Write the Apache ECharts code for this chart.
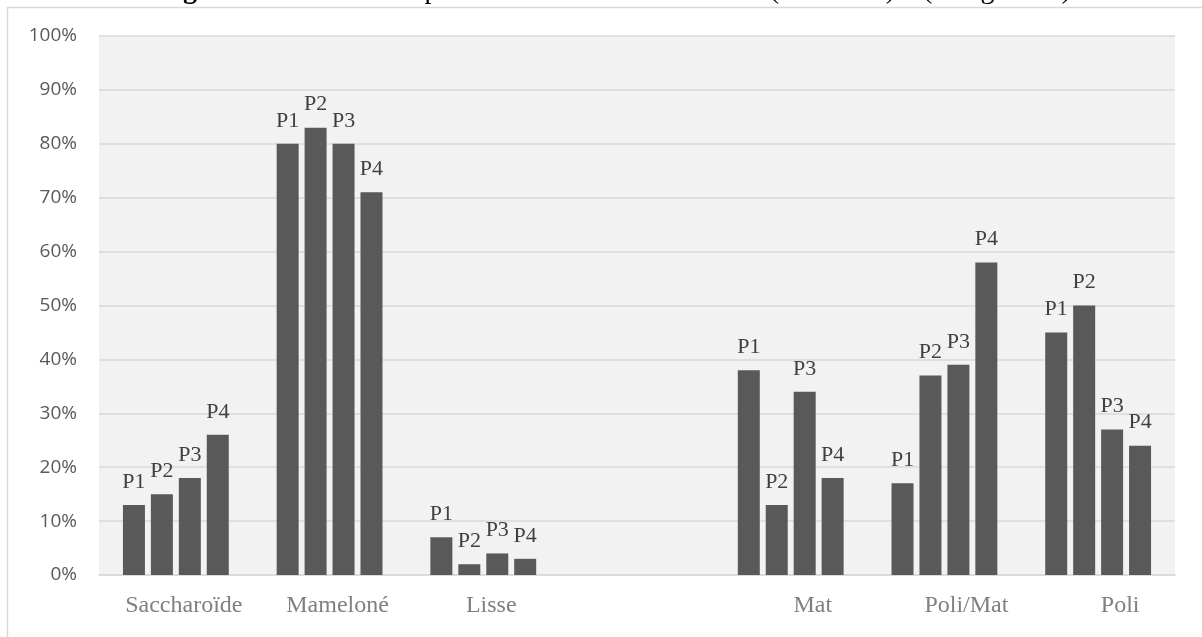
<!DOCTYPE html>
<html>
<head>
<meta charset="utf-8">
<script src="https://cdn.jsdelivr.net/npm/echarts@6/dist/echarts.min.js"></script>
<style>html,body{margin:0;padding:0;background:#fff;}#c{width:1202px;height:637px;}</style>
</head>
<body>
<div id="c"></div>
<script>
const categories = ['Saccharoïde', 'Mameloné', 'Lisse', '', 'Mat', 'Poli/Mat', 'Poli'];
const seriesNames = ['P1', 'P2', 'P3', 'P4'];
const p1 = [13, 80, 7, null, 38, 17, 45];
const p2 = [15, 83, 2, null, 13, 37, 50];
const p3 = [18, 80, 4, null, 34, 39, 27];
const p4 = [26, 71, 3, null, 18, 58, 24];
const yTicks = [0, 10, 20, 30, 40, 50, 60, 70, 80, 90, 100];
const titleBold = 'Figure 6:';
const titleRest = 'Texture de superficie - Fraction de sable fin (0.125mm) – (Allegro/Ms)';

const values = [p1, p2, p3, p4];
const serif = '"Liberation Serif", "Times New Roman", serif';
const chart = echarts.init(document.getElementById('c'), null, {renderer: 'canvas'});
chart.setOption({
  backgroundColor: '#ffffff',
  animation: false,
  title: {
    text: '{b|' + titleBold + '} {r|' + titleRest + '}',
    left: 158,
    top: -23,
    padding: 0,
    z: 10,
    textStyle: {
      fontWeight: 'normal',
      fontFamily: serif,
      fontSize: 28,
      color: '#000',
      rich: {
        b: {fontFamily: serif, fontWeight: 'bold', fontSize: 28, lineHeight: 28, color: '#000'},
        r: {fontFamily: serif, fontWeight: 'normal', fontSize: 28, lineHeight: 28, color: '#000'}
      }
    }
  },
  graphic: [
    {type: 'rect', z: -10, shape: {x: 7.5, y: 7.5, width: 1300, height: 700},
     style: {fill: '#ffffff', stroke: '#d9d9d9', lineWidth: 1.5}},
    {type: 'rect', z: -5, shape: {x: 99, y: 36, width: 1076, height: 539},
     style: {fill: '#f2f2f2'}}
  ],
  grid: {left: 99, right: 27, top: 36, bottom: 62, containLabel: false},
  xAxis: {
    type: 'category',
    data: categories,
    axisLine: {show: true, lineStyle: {color: '#d9d9d9', width: 1.5}},
    axisTick: {show: false},
    axisLabel: {
      interval: 0,
      margin: 19,
      color: '#808080',
      fontFamily: serif,
      fontSize: 24,
      padding: [0, 0, 0, 16],
      formatter: (v, i) => i >= 4 ? '{s|' + v + '}' : v,
      rich: {s: {padding: [0, 0, 0, 28], fontFamily: serif, fontSize: 24, color: '#808080'}}
    }
  },
  yAxis: {
    type: 'value',
    min: 0, max: 100, interval: 10,
    axisLine: {show: false},
    axisTick: {show: false},
    splitLine: {show: true, lineStyle: {color: '#d9d9d9', width: 1.5}},
    axisLabel: {
      margin: 22,
      color: '#595959',
      fontFamily: '"Open Sans", "Liberation Sans", sans-serif',
      fontSize: 19,
      formatter: v => yTicks.includes(v) ? v + '%' : ''
    }
  },
  series: seriesNames.map((name, i) => ({
    name: name,
    type: 'bar',
    data: values[i],
    barWidth: 22,
    barGap: '27%',
    itemStyle: {color: '#595959'},
    label: {
      show: true,
      position: 'top',
      distance: 12,
      formatter: p => p.value == null ? '' : p.seriesName,
      color: '#404040',
      fontFamily: serif,
      fontSize: 22
    }
  }))
});
</script>
</body>
</html>
